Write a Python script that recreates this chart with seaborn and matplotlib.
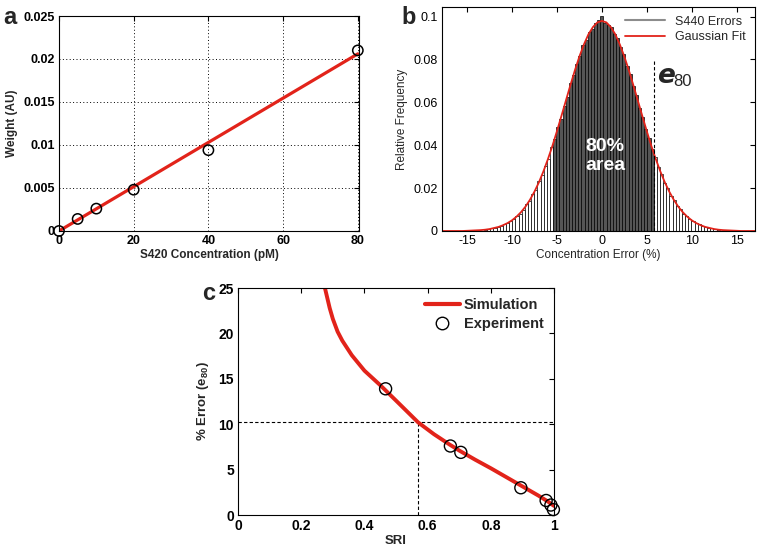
import numpy as np
import pandas as pd
import matplotlib
matplotlib.use("Agg")
import matplotlib.pyplot as plt
import seaborn as sns
from matplotlib.lines import Line2D

# ---- panel a: calibration
conc_pm = [0, 5, 10, 20, 40, 80]
weight_au = [0.0000, 0.0014, 0.0026, 0.0048, 0.0094, 0.0210]
fit_a_x = [0, 80]
fit_a_y = [0.0, 0.0206]

# ---- panel b: error histogram (bin width 0.35, centres -12.95 .. 12.95)
bin_w = 0.35
bin_k = np.arange(-37, 38)
hist_h = [0.0005, 0.0008, 0.0012, 0.0013, 0.0020, 0.0022, 0.0031, 0.0036, 0.0048, 0.0058,
          0.0072, 0.0079, 0.0098, 0.0125, 0.0141, 0.0171, 0.0193, 0.0232, 0.0259, 0.0305,
          0.0338, 0.0390, 0.0428, 0.0486, 0.0524, 0.0585, 0.0627, 0.0688, 0.0726, 0.0781,
          0.0816, 0.0866, 0.0891, 0.0930, 0.0944, 0.0972, 0.0982,
          0.1002,
          0.0971, 0.0961, 0.0953, 0.0918, 0.0899, 0.0856, 0.0825, 0.0771, 0.0734, 0.0677,
          0.0636, 0.0574, 0.0533, 0.0476, 0.0436, 0.0382, 0.0346, 0.0298, 0.0266, 0.0224,
          0.0199, 0.0165, 0.0146, 0.0118, 0.0102, 0.0081, 0.0070, 0.0055, 0.0047, 0.0036,
          0.0031, 0.0022, 0.0019, 0.0014, 0.0012, 0.0008, 0.0006]
fit_b_x = np.arange(-18, 17.51, 0.5)
fit_b_y = [0, 0, 0, 0, 0, 0, 0.0001, 0.0002, 0.0003, 0.0004, 0.0006, 0.0009,
           0.0014, 0.0019, 0.0027, 0.0037, 0.0050, 0.0067, 0.0088, 0.0114, 0.0146, 0.0184,
           0.0228, 0.0279, 0.0336, 0.0398, 0.0466, 0.0537, 0.0609, 0.0681, 0.0750, 0.0814,
           0.0870, 0.0917, 0.0951, 0.0973,
           0.0980,
           0.0973, 0.0951, 0.0917, 0.0870, 0.0814, 0.0750, 0.0681, 0.0609, 0.0537, 0.0466,
           0.0398, 0.0336, 0.0279, 0.0228, 0.0184, 0.0146, 0.0114, 0.0088, 0.0067, 0.0050,
           0.0037, 0.0027, 0.0019, 0.0014, 0.0009, 0.0006, 0.0004, 0.0003, 0.0002, 0.0001,
           0, 0, 0, 0, 0]
area_lo, e80 = -5.3, 5.8

# ---- panel c: SRI vs error
sim_sri = [0.275, 0.29, 0.30, 0.315, 0.33, 0.36, 0.40, 0.45, 0.50, 0.57, 0.62, 0.67,
           0.70, 0.75, 0.80, 0.85, 0.90, 0.95, 0.98, 1.0]
sim_err = [25.0, 22.8, 21.6, 20.2, 19.2, 17.6, 15.9, 14.3, 12.6, 10.2, 8.9, 7.75,
           7.1, 6.1, 5.15, 4.15, 3.15, 2.15, 1.5, 1.0]
exp_sri = [0.467, 0.672, 0.705, 0.895, 0.975, 0.99, 0.998]
exp_err = [13.9, 7.6, 6.9, 3.0, 1.6, 1.1, 0.6]
sri_ref, err_ref = 0.57, 10.2

RED = "#e2231a"

sns.set_style("white")
plt.rcParams["font.family"] = ["Liberation Sans", "DejaVu Sans"]
plt.rcParams["axes.unicode_minus"] = False
plt.rcParams["mathtext.fontset"] = "custom"
plt.rcParams["mathtext.rm"] = "Liberation Sans"
plt.rcParams["mathtext.it"] = "Liberation Sans:italic"
plt.rcParams["mathtext.bf"] = "Liberation Sans:bold"

fig = plt.figure(figsize=(7.6, 5.48), dpi=100)
ax_a = fig.add_axes([0.0776, 0.5785, 0.3947, 0.3923])
ax_b = fig.add_axes([0.5816, 0.5785, 0.4118, 0.4088])
ax_c = fig.add_axes([0.3132, 0.0602, 0.4158, 0.4142])

def matlab_box(ax, size, weight):
    for s in ax.spines.values():
        s.set_visible(True)
        s.set_color("k")
        s.set_linewidth(0.8)
    ax.tick_params(direction="in", top=True, right=True, length=3.5, width=0.8,
                   labelsize=size, pad=3, colors="k")
    for lab in ax.get_xticklabels() + ax.get_yticklabels():
        lab.set_fontweight(weight)

# a
sns.lineplot(x=fit_a_x, y=fit_a_y, color=RED, lw=2.3, ax=ax_a)
sns.scatterplot(x=conc_pm, y=weight_au, s=55, facecolors="none", edgecolors="k",
                linewidths=1.1, clip_on=False, zorder=5, ax=ax_a)
ax_a.set_xlim(0, 80.3)
ax_a.set_ylim(0, 0.025)
ax_a.set_xticks([0, 20, 40, 60, 80])
ax_a.set_yticks([0, 0.005, 0.01, 0.015, 0.02, 0.025])
ax_a.set_yticklabels(["0", "0.005", "0.01", "0.015", "0.02", "0.025"])
ax_a.grid(True, color="k", ls=(0, (1, 2.5)), lw=0.7)
ax_a.set_xlabel("S420 Concentration (pM)", fontsize=8.5, fontweight="bold", labelpad=1)
ax_a.set_ylabel("Weight (AU)", fontsize=8.5, fontweight="bold", labelpad=4)
matlab_box(ax_a, 9, "bold")

# b
centres = bin_k * bin_w
edges = [float(e) for e in np.append(centres - bin_w / 2, centres[-1] + bin_w / 2)]
hist_df = pd.DataFrame({"err": centres, "freq": hist_h})
hist_df["dark"] = (hist_df["err"] > area_lo) & (hist_df["err"] < e80)
sns.histplot(data=hist_df[~hist_df["dark"]], x="err", weights="freq", bins=edges,
             color="white", edgecolor="k", linewidth=0.5, alpha=1, ax=ax_b)
sns.histplot(data=hist_df[hist_df["dark"]], x="err", weights="freq", bins=edges,
             color="#555555", edgecolor="k", linewidth=0.5, alpha=1, ax=ax_b)
sns.lineplot(x=fit_b_x, y=fit_b_y, color=RED, lw=1.3, ax=ax_b)
ax_b.vlines(e80, 0, 0.08, colors="k", linestyles=(0, (3, 2)), lw=0.8)
ax_b.text(6.15, 0.0722, "e", fontsize=19, family="DejaVu Sans", fontstyle="oblique",
          fontweight="bold", va="center")
ax_b.text(8.0, 0.0695, "80", fontsize=12, va="center")
ax_b.text(0.35, 0.035, "80%\narea", color="white", fontsize=14, fontweight="bold",
          ha="center", va="center", linespacing=1.15)
ax_b.set_xlim(-17.8, 17.05)
ax_b.set_ylim(0, 0.1045)
ax_b.set_xticks([-15, -10, -5, 0, 5, 10, 15])
ax_b.set_yticks([0, 0.02, 0.04, 0.06, 0.08, 0.1])
ax_b.set_yticklabels(["0", "0.02", "0.04", "0.06", "0.08", "0.1"])
ax_b.set_xlabel("Concentration Error (%)", fontsize=8.5, labelpad=1)
ax_b.set_ylabel("Relative Frequency", fontsize=8.5, labelpad=4)
matlab_box(ax_b, 9, "normal")
ax_b.legend(handles=[Line2D([], [], color="#8c8c8c", lw=1.5),
                     Line2D([], [], color=RED, lw=1.3)],
            labels=["S440 Errors", "Gaussian Fit"], loc="upper right", frameon=False,
            fontsize=9, handlelength=3.2, borderaxespad=0.3, labelspacing=0.3)

# c
ax_c.hlines(err_ref, 0, 1, colors="k", linestyles=(0, (3, 2)), lw=0.8)
ax_c.vlines(sri_ref, 0, err_ref, colors="k", linestyles=(0, (3, 2)), lw=0.8)
sns.lineplot(x=sim_sri, y=sim_err, color=RED, lw=2.8, ax=ax_c, sort=False)
sns.scatterplot(x=exp_sri, y=exp_err, s=75, facecolors="none", edgecolors="k",
                linewidths=1.0, clip_on=False, zorder=5, ax=ax_c)
ax_c.set_xlim(0, 1)
ax_c.set_ylim(0, 25)
ax_c.set_xticks([0, 0.2, 0.4, 0.6, 0.8, 1])
ax_c.set_xticklabels(["0", "0.2", "0.4", "0.6", "0.8", "1"])
ax_c.set_yticks([0, 5, 10, 15, 20, 25])
ax_c.set_xlabel("SRI", fontsize=9.5, fontweight="bold", labelpad=1)
ax_c.set_ylabel(r"% Error (e$_{\mathbf{80}}$)", fontsize=9.5, fontweight="bold", labelpad=5)
matlab_box(ax_c, 10, "bold")
leg = ax_c.legend(handles=[Line2D([], [], color=RED, lw=3),
                           Line2D([], [], ls="none", marker="o", ms=9, mfc="none",
                                  mec="k", mew=1.0)],
                  labels=["Simulation", "Experiment"], loc="upper right", frameon=False,
                  fontsize=10.5, handlelength=2.4, handletextpad=0.3,
                  borderaxespad=0.3, labelspacing=0.35)
for t in leg.get_texts():
    t.set_fontweight("bold")

# panel letters
fig.text(0.004, 0.968, "a", fontsize=17, fontweight="bold", va="center")
fig.text(0.528, 0.968, "b", fontsize=17, fontweight="bold", va="center")
fig.text(0.266, 0.465, "c", fontsize=17, fontweight="bold", va="center")

fig.savefig("out.png", dpi=100)
